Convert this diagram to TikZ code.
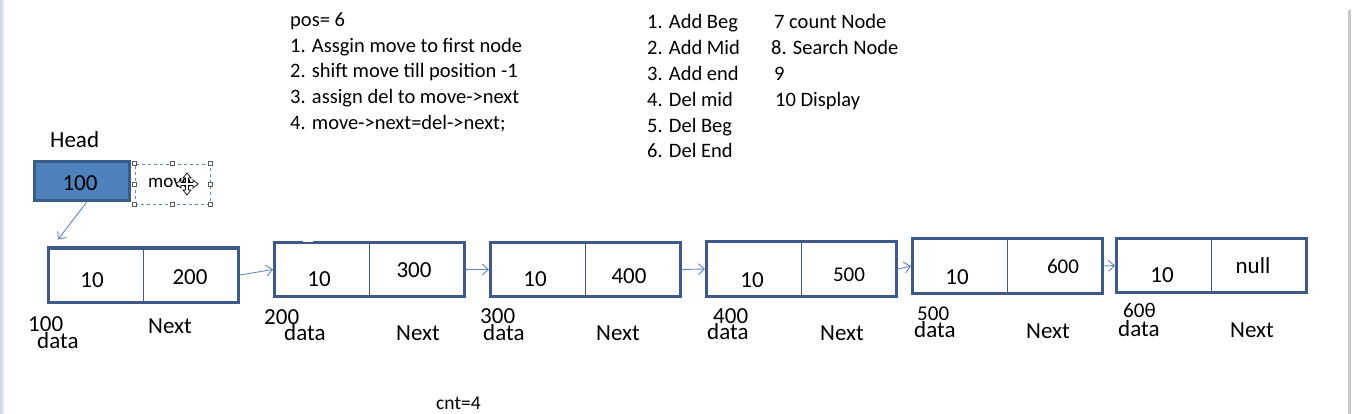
\documentclass[tikz,border=0pt]{standalone}
\usepackage{fontspec}
\setmainfont{Carlito}
\usetikzlibrary{arrows.meta,calc}
\definecolor{boxline}{RGB}{62,90,138}
\definecolor{headfill}{RGB}{79,129,189}
\definecolor{headline}{RGB}{56,93,138}
\definecolor{linkcol}{RGB}{98,133,192}
\definecolor{handlecol}{RGB}{90,90,90}
\definecolor{selcol}{RGB}{90,140,200}
\definecolor{edgeL}{RGB}{205,215,230}
\definecolor{edgeR}{RGB}{235,240,246}
\definecolor{edgegray}{RGB}{200,200,200}
\tikzset{
  x=1pt, y=-1pt,
  txt/.style={inner sep=0pt, anchor=base west, font=\fontsize{20.5}{24}\selectfont},
  big/.style={inner sep=0pt, anchor=base, font=\fontsize{23}{26}\selectfont},
  mid/.style={inner sep=0pt, anchor=base, font=\fontsize{21}{24}\selectfont},
  lbl/.style={inner sep=0pt, anchor=base west, font=\fontsize{23}{26}\selectfont},
  lbls/.style={inner sep=0pt, anchor=base west, font=\fontsize{21}{24}\selectfont},
  listbox/.style={draw=boxline, line width=3pt, rectangle, minimum width=190pt, minimum height=54pt, inner sep=0pt},
  divider/.style={draw=boxline, line width=0.9pt},
  link/.style={draw=linkcol, line width=0.9pt, -{Straight Barb[length=6pt,width=11pt,line width=0.9pt]}},
  handle/.style={draw=handlecol, fill=white, line width=0.6pt, minimum size=4pt, inner sep=0pt, rectangle},
}
\begin{document}
\begin{tikzpicture}
\useasboundingbox (0,0) rectangle (1352,414);
\fill[white] (0,0) rectangle (1352,414);
% window edges
\fill[left color=edgeL, right color=edgeR] (0,0) rectangle (4,414);
\fill[edgegray] (1348,10) rectangle (1351,414);

% instruction text
\node[txt] (pos) at (290,27) {pos= 6};
\node[txt] (s1) at (290,53) {1. Assgin move to first node};
\node[txt] (s2) at (290,78) {2. shift move till position -1};
\node[txt] (s3) at (290,104) {3. assign del to move->next};
\node[txt] (s4) at (290,130) {4. move->next=del->next;};

% menu
\node[txt] (m1) at (647,29) {1. Add Beg};
\node[txt] (m2) at (647,55) {2. Add Mid};
\node[txt] (m3) at (647,81) {3. Add end};
\node[txt] (m4) at (647,107) {4. Del mid};
\node[txt] (m5) at (647,133) {5. Del Beg};
\node[txt] (m6) at (647,158) {6. Del End};
\node[txt] (m7) at (774,29) {7 count Node};
\node[txt] (m8) at (771,55) {8. Search Node};
\node[txt] (m9) at (774,81) {9};
\node[txt] (m10) at (775,107) {10 Display};

% head
\node[lbl] (headlbl) at (50,148) {Head};
\node[draw=headline, fill=headfill, line width=3pt, minimum width=95pt, minimum height=39pt, inner sep=0pt] (head) at (81.5,181.5) {};
\node[big] (headval) at (80,191) {100};

% move selection box
\node[draw=selcol, dashed, line width=0.8pt, minimum width=75pt, minimum height=40pt, inner sep=0pt] (move) at (172.5,184) {};
\node[inner sep=0pt, anchor=base west, font=\fontsize{19}{22}\selectfont] (movetxt) at (148,188) {move};
\foreach \a in {north west,north,north east,east,south east,south,south west,west}
  \node[handle] at (move.\a) {};
\begin{scope}[shift={(187,184)}]
\filldraw[fill=white, draw=black, line width=0.7pt]
 (1.5,-1.5) -- (1.5,-6) -- (4,-6) -- (0,-11) -- (-4,-6) -- (-1.5,-6) -- (-1.5,-1.5)
 -- (-6,-1.5) -- (-6,-4) -- (-11,0) -- (-6,4) -- (-6,1.5) -- (-1.5,1.5)
 -- (-1.5,6) -- (-4,6) -- (0,11) -- (4,6) -- (1.5,6) -- (1.5,1.5)
 -- (6,1.5) -- (6,4) -- (11,0) -- (6,-4) -- (6,-1.5) -- cycle;
\end{scope}

% list nodes
\node[listbox] (n1) at (143.5,275) {};
\node[listbox] (n2) at (369.5,269.5) {};
\node[listbox] (n3) at (585.5,269.5) {};
\node[listbox] (n4) at (801.5,269) {};
\node[listbox] (n5) at (1007.5,266) {};
\node[listbox] (n6) at (1211.5,265.5) {};
\foreach \n in {n1,n2,n3,n4,n5,n6}
  \draw[divider] (\n.north) -- (\n.south);
% small gap in the top border of the second node
\fill[white] (303,239.5) rectangle (313,242.5);

% values
\node[big] (d1) at (92,287) {10};   \node[big] (p1) at (190,284) {200};
\node[big] (d2) at (319,286) {10};  \node[big] (p2) at (414,277) {300};
\node[big] (d3) at (535,286) {10};  \node[big] (p3) at (629,283) {400};
\node[big] (d4) at (752,287) {10};  \node[mid] (p4) at (849,281) {500};
\node[big] (d5) at (957,284) {10};  \node[mid] (p5) at (1063,273) {600};
\node[big] (d6) at (1162,282) {10}; \node[big] (p6) at (1253,273) {null};

% labels
\node[lbl] (a1) at (28,331) {100};  \node[lbl] (t1) at (37,348) {data};  \node[lbl] (x1) at (148,333) {Next};
\node[lbl] (a2) at (264,324) {200}; \node[lbl] (t2) at (284,340) {data}; \node[lbl] (x2) at (396,340) {Next};
\node[lbl] (a3) at (480,323) {300}; \node[lbl] (t3) at (483,340) {data}; \node[lbl] (x3) at (596,340) {Next};
\node[lbl] (a4) at (713,323) {400}; \node[lbl] (t4) at (707,339) {data}; \node[lbl] (x4) at (820,340) {Next};
\node[lbls] (a5) at (917,320) {500}; \node[lbl] (t5) at (914,337) {data}; \node[lbl] (x5) at (1026,338) {Next};
\node[lbls] (a6) at (1123,317) {60θ}; \node[lbl] (t6) at (1118,336) {data}; \node[lbl] (x6) at (1230,337) {Next};

% links
\draw[link] (n1.east) -- (n2.west);
\draw[link] (n2.east) -- (n3.west);
\draw[link] (n3.east) -- (n4.west);
\draw[link] (n4.east) -- (n5.west);
\draw[link] (n5.east) -- (n6.west);
\coordinate (hstart) at ($(head.south west)!0.55!(head.south east)$);
\coordinate (hend) at ($(n1.north west)+(11,-7)$);
\draw[link] (hstart) -- (hend);

\node[inner sep=0pt, anchor=base west, font=\fontsize{19.5}{22}\selectfont] (cnt) at (436,409) {cnt=4};
\end{tikzpicture}
\end{document}
